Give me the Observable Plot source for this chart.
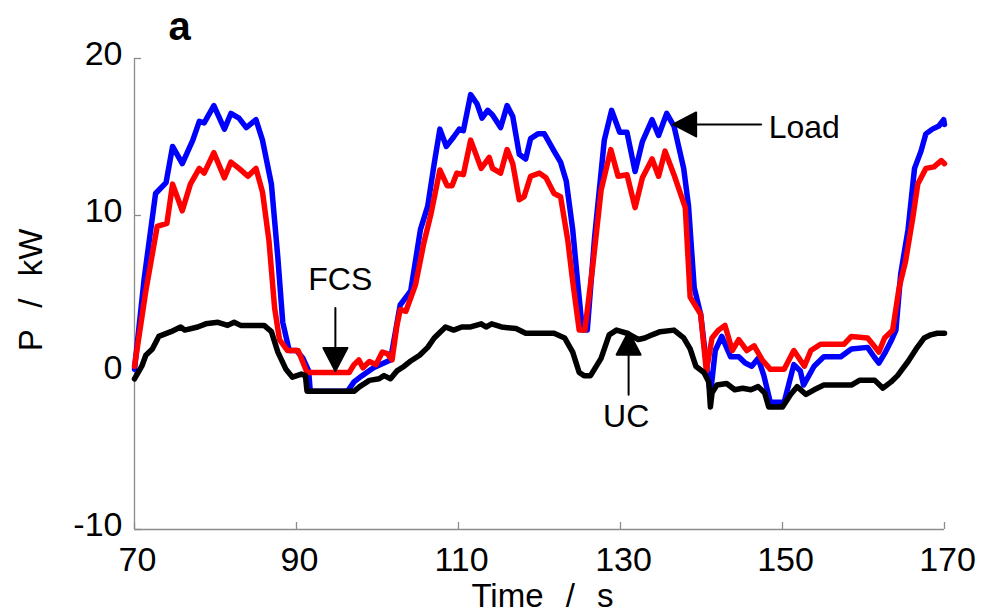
<!DOCTYPE html>
<html>
<head>
<meta charset="utf-8">
<script src="https://cdn.jsdelivr.net/npm/d3@7"></script>
<script src="https://cdn.jsdelivr.net/npm/@observablehq/plot@0.6"></script>
<style>
  html, body { margin: 0; padding: 0; background: #ffffff; }
  #chart svg { display: block; }
</style>
</head>
<body>
<div id="chart"></div>
<script>
// ---- Data (time in s, power in kW) ----
const xTicks = [70, 90, 110, 130, 150, 170];
const yTicks = [-10, 0, 10, 20];

const loadSeries = [
  [70,0.2],[71.2,6.0],[72.6,11.4],[73.9,12.1],[74.7,14.4],[75.9,13.3],[77.2,14.8],[78.0,16.0],[78.6,15.9],[79.8,17.0],
  [81.1,15.5],[81.9,16.5],[82.9,16.2],[83.8,15.6],[85.0,16.1],[85.8,14.8],[86.9,12.0],[87.7,7.3],[88.3,3.2],[89.1,1.4],
  [90.0,1.4],[90.8,0.9],[91.5,0.1],[91.7,-1.2],[96.3,-1.2],[97.1,-0.6],[98.1,-0.2],[99.5,0.3],[101.6,0.8],[102.8,4.3],
  [104.1,5.2],[105.3,9.1],[106.2,10.6],[107.0,13.3],[107.7,15.5],[108.5,14.4],[109.4,15.0],[110.1,15.5],[110.6,15.4],[111.5,17.7],
  [112.3,17.1],[112.9,16.2],[113.6,16.7],[114.2,16.4],[115.2,15.6],[116.0,17.0],[116.7,16.3],[117.5,13.9],[118.3,13.6],[118.9,14.9],
  [119.8,15.2],[120.6,15.2],[121.8,14.1],[122.6,13.4],[123.3,12.2],[124.1,9.1],[124.7,5.8],[125.3,2.7],[125.9,2.7],[126.8,8.6],
  [128.0,14.8],[128.9,16.7],[129.9,15.3],[130.8,15.3],[131.8,12.8],[132.7,14.7],[133.9,16.1],[134.7,15.1],[135.7,16.5],[136.6,15.7],
  [137.8,13.0],[138.4,10.6],[139.1,5.4],[139.9,3.7],[140.7,0.1],[141.1,-1.4],[141.7,1.4],[142.5,2.3],[143.6,1.0],[144.6,1.0],
  [145.4,0.6],[146.2,0.4],[147.0,0.9],[147.7,-0.2],[148.5,-1.9],[150.2,-1.9],[151.4,0.5],[152.2,0.1],[152.6,-0.8],[153.9,0.4],
  [155.1,1.0],[157.2,1.0],[158.5,1.5],[160.5,1.6],[161.3,1.0],[161.9,0.6],[162.6,1.2],[163.4,2.0],[164.0,2.7],[164.6,6.3],
  [165.5,9.1],[166.3,13.0],[167.1,14.1],[167.7,15.2],[168.5,15.5],[169.3,15.7],[169.9,16.1],[170,15.8]
];

const fcsSeries = [
  [70,0.4],[71.4,5.2],[72.8,9.3],[74.0,9.5],[74.7,12.0],[75.9,10.3],[76.9,12.0],[78.0,13.0],[78.6,12.7],[79.8,14.0],
  [81.1,12.4],[81.9,13.4],[82.9,13.0],[84.0,12.5],[85.0,13.0],[85.8,11.5],[86.6,8.4],[87.3,4.1],[87.9,2.1],[88.9,1.4],
  [90.2,1.4],[91.3,0],[96.5,0],[97.1,0.5],[97.7,0.8],[98.2,0.3],[99.0,0.7],[99.8,0.5],[100.6,1.3],[101.2,1.2],
  [101.8,0.8],[102.4,3.0],[102.8,4.0],[103.5,3.9],[104.7,5.6],[105.7,8.2],[106.6,10.1],[107.7,12.9],[108.6,11.9],[109.2,11.9],
  [109.8,12.7],[110.6,12.6],[111.5,14.8],[112.8,13.0],[113.8,13.7],[114.2,13.0],[115.2,12.7],[116.0,14.2],[116.7,13.3],[117.5,11.0],
  [118.1,11.2],[118.9,12.5],[120.0,12.7],[120.8,12.4],[121.8,11.4],[122.6,11.2],[123.5,8.4],[124.1,5.8],[124.9,2.7],[125.6,2.7],
  [126.6,6.9],[127.6,11.6],[128.8,14.2],[129.7,12.5],[130.8,12.6],[131.8,10.5],[132.7,12.4],[133.9,13.6],[134.7,12.5],[135.5,14.1],
  [136.6,12.6],[138.0,10.5],[138.6,4.8],[139.9,3.7],[140.6,0.1],[141.3,2.2],[142.1,2.7],[142.9,3.0],[143.8,1.4],[144.6,2.1],
  [145.6,1.4],[146.5,1.7],[147.5,0.8],[148.5,0.2],[150.2,0.2],[151.4,1.4],[152.7,0.4],[153.5,1.4],[154.7,1.8],[157.6,1.8],
  [158.5,2.3],[160.5,2.2],[161.3,1.7],[161.9,1.3],[162.6,2.2],[163.6,2.7],[164.4,5.4],[165.2,7.1],[166.1,9.9],[166.7,12.0],
  [167.7,13.0],[168.7,13.1],[169.6,13.5],[170,13.3]
];

const ucSeries = [
  [70,-0.4],[70.9,0.4],[71.4,1.1],[72.2,1.5],[73.0,2.3],[74.5,2.6],[75.7,2.9],[76.2,2.7],[77.8,2.9],[78.8,3.1],
  [80.3,3.2],[81.5,3.0],[82.3,3.2],[83.1,3.0],[86.0,3.0],[86.9,2.6],[87.7,1.3],[88.7,0.2],[89.5,-0.3],[90.6,-0.1],
  [91.1,-0.2],[91.3,-1.2],[97.1,-1.2],[97.8,-0.9],[99.0,-0.5],[100.2,-0.4],[100.8,-0.2],[101.6,-0.4],[102.4,0.1],[103.3,0.4],
  [104.0,0.7],[105.2,1.1],[106.2,1.6],[107.0,2.2],[108.4,2.9],[109.4,2.7],[110.4,2.9],[111.5,2.9],[112.8,3.1],[113.4,2.9],
  [114.1,3.1],[115.3,2.9],[117.1,2.8],[118.3,2.5],[121.8,2.5],[123.1,2.2],[124.1,1.3],[124.9,0.0],[125.5,-0.2],[126.3,-0.2],
  [127.6,0.9],[128.6,2.4],[129.5,2.7],[130.8,2.5],[132.2,2.1],[133.0,2.2],[133.9,2.4],[134.9,2.6],[136.6,2.7],[137.8,2.2],
  [138.6,1.5],[139.3,0.4],[140.3,0.0],[140.9,-0.6],[141.1,-2.2],[141.3,-1.3],[141.9,-0.8],[143.1,-0.7],[144.1,-1.1],[145.1,-1.0],
  [146.1,-1.1],[147.0,-0.9],[147.8,-1.3],[148.3,-2.2],[150.0,-2.2],[151.0,-1.4],[151.8,-0.9],[152.9,-1.4],[153.9,-1.1],[155.1,-0.8],
  [158.5,-0.8],[159.5,-0.5],[161.4,-0.5],[162.4,-1.0],[163.4,-0.6],[164.2,-0.2],[165.5,0.7],[166.5,1.5],[167.5,2.2],[168.3,2.4],
  [169.1,2.5],[170,2.5]
];

// Annotations: arrow tip and label positions (data coordinates)
const annotationText = ["Load", "FCS", "UC"];
const arrowTipX = [136.5, 94.8, 131.0];
const arrowTipY = [15.8, 0.1, 2.6];
const labelX = [148.3, 95.4, 130.7];
const labelY = [15.6, 5.9, -2.85];

const panelLabel = "a";
const xLabel = "Time / s";
const yLabel = "P / kW";

// ---- Drawing ----
const FONT = '"Liberation Sans", Arial, Helvetica, sans-serif';
const AXIS_GRAY = "#8c8c8c";
const LINE_W = 5.5;

const filledArrow = {
  draw(context, l) {
    const hl = 23, hw = 12;
    context.moveTo(0, 0);
    context.lineTo(0, -l + hl);
    context.moveTo(0, -l);
    context.lineTo(-hw, -l + hl);
    context.lineTo(hw, -l + hl);
    context.closePath();
  }
};

const px = d => d[0];
const py = d => d[1];

const chart = Plot.plot({
  width: 982,
  height: 616,
  marginLeft: 134,
  marginRight: 38,
  marginTop: 58,
  marginBottom: 87,
  style: { fontFamily: FONT, fontSize: "32px", background: "#ffffff", color: "#000000", overflow: "visible" },
  x: { domain: [70, 170], ticks: xTicks },
  y: { domain: [-10, 20], ticks: yTicks },
  marks: [
    // axis lines
    Plot.ruleX([70], { stroke: AXIS_GRAY, strokeWidth: 1.3 }),
    Plot.ruleY([-10], { stroke: AXIS_GRAY, strokeWidth: 1.3 }),
    // inward ticks
    Plot.axisX({ ticks: xTicks, tickSize: -7, tickFormat: () => "", label: null, stroke: AXIS_GRAY, strokeWidth: 1.3 }),
    Plot.axisY({ ticks: yTicks, tickSize: -7, tickFormat: () => "", label: null, stroke: AXIS_GRAY, strokeWidth: 1.3 }),
    // tick labels
    Plot.axisX({ ticks: xTicks, tickSize: 0, tickPadding: 17, tickFormat: d => String(d), label: null, fontSize: 34, fill: "#000", dx: 3 }),
    Plot.axisY({ ticks: yTicks, tickSize: 0, tickPadding: 12, tickFormat: d => String(d), label: null, fontSize: 34, fill: "#000", dy: -4 }),
    // series
    Plot.line(loadSeries, { x: px, y: py, stroke: "#0000ff", strokeWidth: LINE_W, strokeLinejoin: "round", strokeLinecap: "round" }),
    Plot.line(fcsSeries, { x: px, y: py, stroke: "#ff0000", strokeWidth: LINE_W, strokeLinejoin: "round", strokeLinecap: "round" }),
    Plot.line(ucSeries, { x: px, y: py, stroke: "#000000", strokeWidth: LINE_W, strokeLinejoin: "round", strokeLinecap: "round" }),
    // annotation arrows (tip at the data point)
    Plot.vector([0], { x: i => arrowTipX[i], y: i => arrowTipY[i], length: 88, rotate: -90, anchor: "end", shape: filledArrow, stroke: "#000", fill: "#000", strokeWidth: 2 }),
    Plot.vector([1], { x: i => arrowTipX[i], y: i => arrowTipY[i], length: 63, rotate: 180, anchor: "end", shape: filledArrow, stroke: "#000", fill: "#000", strokeWidth: 2 }),
    Plot.vector([2], { x: i => arrowTipX[i], y: i => arrowTipY[i], length: 63, rotate: 0, anchor: "end", shape: filledArrow, stroke: "#000", fill: "#000", strokeWidth: 2 }),
    // annotation labels
    Plot.text([0], { x: i => labelX[i], y: i => labelY[i], text: i => annotationText[i], textAnchor: "start", lineAnchor: "middle", fontSize: 32, fill: "#000" }),
    Plot.text([1, 2], { x: i => labelX[i], y: i => labelY[i], text: i => annotationText[i], textAnchor: "middle", lineAnchor: "middle", fontSize: 32, fill: "#000" }),
    // panel label and axis titles
    Plot.text([panelLabel], { frameAnchor: "top-left", text: d => d, dx: 34, dy: -31, textAnchor: "start", lineAnchor: "middle", fontSize: 40, fontWeight: "bold", fill: "#000" }),
    Plot.text([xLabel], { frameAnchor: "bottom", text: d => d, dx: 3, dy: 67, textAnchor: "middle", lineAnchor: "middle", fontSize: 33, fill: "#000" }),
    Plot.text([yLabel], { frameAnchor: "left", text: d => d, dx: -103, dy: -4, rotate: -90, textAnchor: "middle", lineAnchor: "middle", fontSize: 33, fill: "#000" })
  ]
});

d3.select(chart).selectAll("text")
  .filter(function () { return this.textContent === xLabel || this.textContent === yLabel; })
  .style("word-spacing", "13px");

document.getElementById("chart").appendChild(chart);
</script>
</body>
</html>
